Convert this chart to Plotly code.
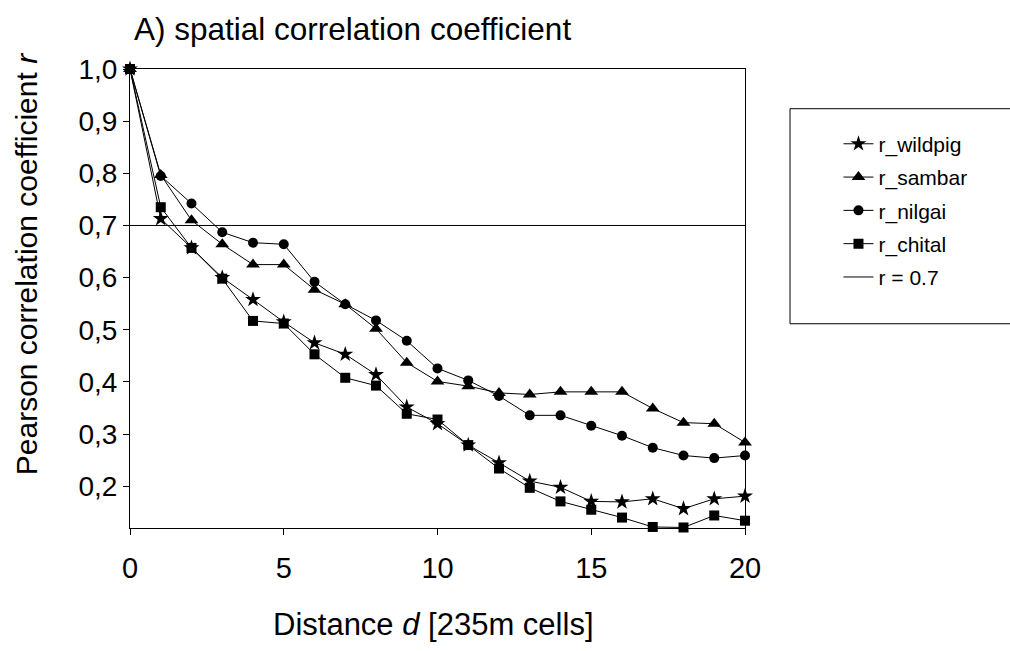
import plotly.graph_objects as go

distance = list(range(0, 21))
r_wildpig = [1.0, 0.713, 0.657, 0.600, 0.558, 0.515, 0.475, 0.453, 0.414, 0.352, 0.320,
             0.279, 0.245, 0.210, 0.198, 0.171, 0.170, 0.176, 0.157, 0.176, 0.181]
r_sambar = [1.0, 0.797, 0.710, 0.664, 0.625, 0.625, 0.577, 0.549, 0.502, 0.437, 0.401,
            0.392, 0.379, 0.376, 0.381, 0.381, 0.381, 0.349, 0.322, 0.320, 0.284]
r_nilgai = [1.0, 0.795, 0.742, 0.687, 0.667, 0.664, 0.592, 0.549, 0.518, 0.479, 0.426,
            0.403, 0.373, 0.336, 0.336, 0.316, 0.297, 0.274, 0.259, 0.254, 0.259]
r_chital = [1.0, 0.735, 0.657, 0.598, 0.517, 0.512, 0.453, 0.408, 0.393, 0.339, 0.328,
            0.279, 0.234, 0.197, 0.171, 0.155, 0.140, 0.122, 0.121, 0.144, 0.134]
threshold_x = [0, 20]
threshold_r = [0.7, 0.7]

series = [
    ("r_wildpig", r_wildpig, "star", 12),
    ("r_sambar", r_sambar, "triangle-up", 12),
    ("r_nilgai", r_nilgai, "circle", 10),
    ("r_chital", r_chital, "square", 10),
]

FONT = "Liberation Sans, Arial, sans-serif"
fig = go.Figure()
for i, (name, vals, sym, sz) in enumerate(series):
    fig.add_trace(go.Scatter(
        x=distance, y=vals, name=name, mode="lines+markers",
        line=dict(color="black", width=1),
        marker=dict(symbol=sym, size=sz, color="black"),
        cliponaxis=False, legendgroup=f"g{i}"))
fig.add_trace(go.Scatter(
    x=threshold_x, y=threshold_r, name="r = 0.7", mode="lines",
    line=dict(color="black", width=1), legendgroup="g4"))

box_line = dict(color="black", width=1)
LX0, LX1, LY0, LY1 = 1.0732, 1.6, 0.445, 0.9135

fig.update_layout(
    width=1010, height=651,
    margin=dict(l=130, r=265, t=69, b=123),
    paper_bgcolor="white", plot_bgcolor="white",
    font=dict(family=FONT, color="black", size=29),
    separators=", ",
    showlegend=True,
    legend=dict(x=1.152, y=0.881, xanchor="left", yanchor="top",
                bgcolor="rgba(0,0,0,0)", borderwidth=0,
                font=dict(size=21, family=FONT), tracegroupgap=3),
    xaxis=dict(range=[0, 20], tickvals=[0, 5, 10, 15, 20], ticks="outside",
               ticklen=6, tickcolor="black", showline=True, linecolor="black",
               linewidth=1, mirror=True, showgrid=False, zeroline=False,
               ticklabelstandoff=8, tickfont=dict(size=29)),
    yaxis=dict(range=[0.12, 1.0], tick0=0, dtick=0.1, tickformat=".1f",
               ticks="outside", ticklen=6, tickcolor="black", showline=True,
               linecolor="black", linewidth=1, mirror=True, showgrid=False,
               zeroline=False, tickfont=dict(size=28)),
    shapes=[
        dict(type="line", xref="paper", yref="paper", x0=LX0, x1=LX1, y0=LY1, y1=LY1, line=box_line),
        dict(type="line", xref="paper", yref="paper", x0=LX0, x1=LX1, y0=LY0, y1=LY0, line=box_line),
        dict(type="line", xref="paper", yref="paper", x0=LX0, x1=LX0, y0=LY0, y1=LY1, line=box_line),
    ],
    annotations=[
        dict(text="A) spatial correlation coefficient", xref="paper", yref="paper",
             x=0.003, y=1.087, xanchor="left", yanchor="middle", showarrow=False,
             font=dict(size=31.5)),
        dict(text="Pearson correlation coefficient <i>r</i>", xref="paper", yref="paper",
             x=-0.168, y=0.574, xanchor="center", yanchor="middle", textangle=-90,
             showarrow=False, font=dict(size=30)),
        dict(text="Distance <i>d</i> [235m cells]", xref="paper", yref="paper",
             x=0.4935, y=-0.211, xanchor="center", yanchor="middle",
             showarrow=False, font=dict(size=31)),
    ],
)
fig.write_html("out.html")
